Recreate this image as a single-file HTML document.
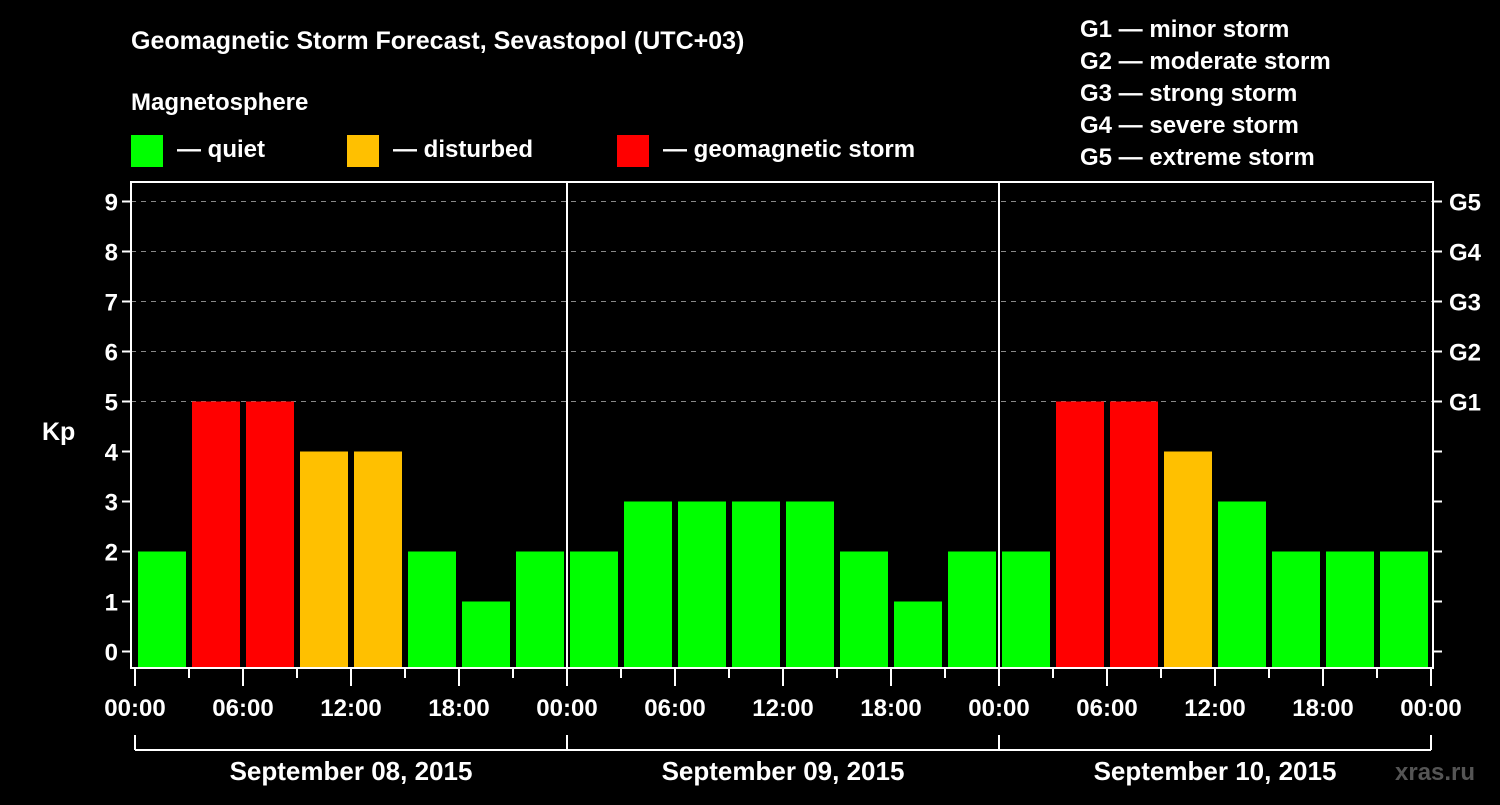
<!DOCTYPE html>
<html><head><meta charset="utf-8"><style>
body{margin:0;background:#000;width:1500px;height:800px;overflow:hidden}
svg text{font-family:"Liberation Sans",Arial,sans-serif;font-weight:bold;fill:#fff}
</style></head><body>
<svg id="chart" width="1500" height="800" viewBox="0 0 1500 800" xmlns="http://www.w3.org/2000/svg">
<rect width="1500" height="800" fill="#000"/>
<text x="131" y="49" font-size="25">Geomagnetic Storm Forecast, Sevastopol (UTC+03)</text>
<text x="131" y="110" font-size="24">Magnetosphere</text>
<g>
<rect x="131" y="135" width="32" height="32" fill="#00ff00"/>
<text x="177" y="157" font-size="24">— quiet</text>
<rect x="347" y="135" width="32" height="32" fill="#ffc000"/>
<text x="393" y="157" font-size="24">— disturbed</text>
<rect x="617" y="135" width="32" height="32" fill="#ff0000"/>
<text x="663" y="157" font-size="24">— geomagnetic storm</text>
</g>
<g font-size="24">
<text x="1080" y="37">G1 — minor storm</text>
<text x="1080" y="69">G2 — moderate storm</text>
<text x="1080" y="101">G3 — strong storm</text>
<text x="1080" y="133">G4 — severe storm</text>
<text x="1080" y="165">G5 — extreme storm</text>
</g>
<text x="42" y="440" font-size="25">Kp</text>
<text x="1395" y="780" font-size="24" fill="#555" style="fill:#555">xras.ru</text>
<g id="plot"></g>
</svg>
<script>
const kpValues=[2,5,5,4,4,2,1,2, 2,3,3,3,3,2,1,2, 2,5,5,4,3,2,2,2];
const yTicks=[0,1,2,3,4,5,6,7,8,9];
const gLabels=["G1","G2","G3","G4","G5"];
const hourLabels=["00:00","06:00","12:00","18:00","00:00","06:00","12:00","18:00","00:00","06:00","12:00","18:00","00:00"];
const dayLabels=["September 08, 2015","September 09, 2015","September 10, 2015"];

const NS="http://www.w3.org/2000/svg";
const plot=document.getElementById('plot');
const L=131,R=1433,T=182,B=668,X0=135,HW=18;
const y=v=>651.5-v*50;
const xh=h=>X0+h*HW;
function el(tag,attrs,parent){const e=document.createElementNS(NS,tag);for(const k in attrs)e.setAttribute(k,attrs[k]);(parent||plot).appendChild(e);return e;}
// grid
for(let v=5;v<=9;v++){const g=el('line',{x1:L,x2:R,y1:y(v),y2:y(v),stroke:'#888','stroke-width':1,'stroke-dasharray':'5,5'});

}
// bars
kpValues.forEach((v,i)=>{const top=y(v);const c=v>=5?'#ff0000':(v>=4?'#ffc000':'#00ff00');
const r=el('rect',{x:xh(i*3)+3,y:top,width:48,height:667-top,fill:c});

});
// day separators
[1,2].forEach(d=>{const s=el('line',{x1:xh(d*24),x2:xh(d*24),y1:T,y2:B,stroke:'#fff','stroke-width':2});

});
// frame
const f=el('rect',{x:L,y:T,width:R-L,height:B-T,fill:'none',stroke:'#fff','stroke-width':2});


// y ticks
yTicks.forEach(v=>{el('line',{x1:L-9,x2:L,y1:y(v),y2:y(v),stroke:'#fff','stroke-width':2});
el('line',{x1:R,x2:R+9,y1:y(v),y2:y(v),stroke:'#fff','stroke-width':2});
const t=el('text',{x:L-13,y:y(v)+9,'font-size':24,'text-anchor':'end'});t.textContent=v;

});
gLabels.forEach((g,i)=>{const t=el('text',{x:R+16,y:y(5+i)+9,'font-size':24});t.textContent=g;

});
// x ticks
for(let h=0;h<=72;h+=3){const major=h%6===0;el('line',{x1:xh(h),x2:xh(h),y1:B,y2:major?686:678,stroke:'#fff','stroke-width':2});}
hourLabels.forEach((s,i)=>{const t=el('text',{x:xh(i*6),y:716,'font-size':24,'text-anchor':'middle'});t.textContent=s;

});
// day bracket
el('line',{x1:xh(0),x2:xh(72),y1:750,y2:750,stroke:'#fff','stroke-width':2});
for(let d=0;d<=3;d++)el('line',{x1:xh(d*24),x2:xh(d*24),y1:735,y2:750,stroke:'#fff','stroke-width':2});
dayLabels.forEach((s,i)=>{const t=el('text',{x:xh(i*24+12),y:780,'font-size':26,'text-anchor':'middle'});t.textContent=s;

});
</script>
</body></html>
